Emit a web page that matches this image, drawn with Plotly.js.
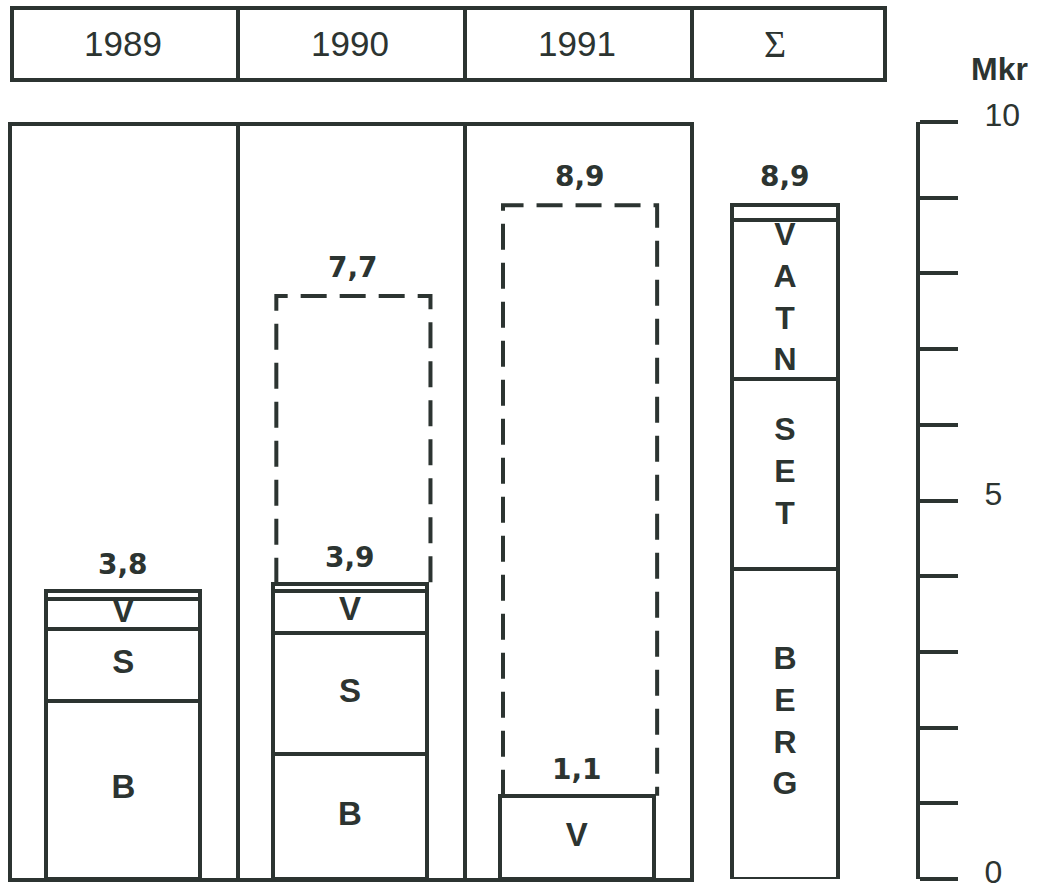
<!DOCTYPE html>
<html>
<head>
<meta charset="utf-8">
<script src="https://cdn.plot.ly/plotly-3.0.1.min.js"></script>
<style>
  html, body { margin: 0; padding: 0; background: #ffffff; }
  #chart { width: 1042px; height: 894px; }
</style>
</head>
<body>
<div id="chart"></div>
<script>
// ---- data (Mkr) ----
const years = ['1989', '1990', '1991'];
const berg  = [2.35, 1.65, null];
const setv  = [0.95, 1.6, null];
const vatn  = [0.4, 0.55, 1.1];
const annet = [0.1, 0.1, null];
const plan  = [null, 7.7, 8.9];
const segLetters = ['B', 'S', 'V'];

const sumHeader = 'Σ';
const sumWords  = ['BERG', 'SET', 'VATN'];
const sumValues = [4.1, 2.5, 2.1, 0.2];   // BERG, SET, VATN, annet

const yTicks = [0, 5, 10];
const unit = 'Mkr';

// ---- style ----
const INK = '#2c3431';
const LW = 4;
const W = 1042, H = 894;
const px = v => v / W, py = v => 1 - v / H;
const fmt = v => v.toFixed(1).replace('.', ',');
const SANS = 'Liberation Sans, Arial, Helvetica, sans-serif';
const NUM = 'DejaVu Sans, Liberation Sans, Arial, sans-serif';

const idx = years.map((_, i) => i);
const barW = 0.68, sumW = 0.55;

const traces = [];
const series = [berg, setv, vatn, annet];
const totals = years.map((_, i) => series.reduce((a, s) => a + (s[i] || 0), 0));

// dashed planned boxes (from the top of the realised bar up to the plan value)
plan.forEach((p, i) => {
  if (p == null) return;
  const c = i + 0.015, h = barW / 2;
  const b = totals[i];
  traces.push({
    type: 'scatter', mode: 'lines',
    x: [c - h, c - h, c + h, c + h], y: [b, p, p, b],
    line: { color: INK, width: LW, dash: '26px,13px' },
    hoverinfo: 'skip', showlegend: false, xaxis: 'x', yaxis: 'y'
  });
});

series.forEach(s => {
  traces.push({
    type: 'bar', x: idx, y: s, width: barW,
    marker: { color: '#ffffff', line: { color: INK, width: LW } },
    hoverinfo: 'skip', showlegend: false, xaxis: 'x', yaxis: 'y'
  });
});
sumValues.forEach(v => {
  traces.push({
    type: 'bar', x: [0], y: [v], width: sumW,
    marker: { color: '#ffffff', line: { color: INK, width: LW } },
    hoverinfo: 'skip', showlegend: false, xaxis: 'x2', yaxis: 'y'
  });
});

// segment letters (yearly bars)
const segs = [berg, setv, vatn];
const lx = [], ly = [], lt = [];
years.forEach((_, i) => {
  let base = 0;
  segs.forEach((s, k) => {
    if (s[i] != null) {
      lx.push(i); ly.push(base + s[i] / 2); lt.push(segLetters[k]);
      base += s[i];
    }
  });
});
traces.push({
  type: 'scatter', mode: 'text', x: lx, y: ly, text: lt,
  textposition: 'middle center',
  textfont: { family: SANS, size: 33, color: INK, weight: 'bold' },
  hoverinfo: 'skip', showlegend: false, xaxis: 'x', yaxis: 'y', cliponaxis: false
});

// Σ segment words (vertical letters)
const sy = [], st = [];
let sb = 0;
sumWords.forEach((w, k) => {
  sy.push(sb + sumValues[k] / 2);
  st.push(w.split('').join('<br>'));
  sb += sumValues[k];
});
traces.push({
  type: 'scatter', mode: 'text', x: sy.map(() => 0), y: sy, text: st,
  textposition: 'middle center',
  textfont: { family: SANS, size: 32, color: INK, weight: 'bold' },
  hoverinfo: 'skip', showlegend: false, xaxis: 'x2', yaxis: 'y', cliponaxis: false
});

// ---- annotations ----
const annotations = [];
const valFont = { family: NUM, size: 28, color: INK, weight: 'bold' };
years.forEach((yr, i) => {
  const tot = totals[i];
  annotations.push({ xref: 'x', yref: 'y', x: i, y: tot, text: fmt(tot),
    showarrow: false, yanchor: 'bottom', yshift: 8, font: valFont });
  if (plan[i] != null) {
    annotations.push({ xref: 'x', yref: 'y', x: i + 0.015, y: plan[i], text: fmt(plan[i]),
      showarrow: false, yanchor: 'bottom', yshift: 10, font: valFont });
  }
  annotations.push({ xref: 'x', yref: 'paper', x: i, y: py(44), text: yr,
    showarrow: false, yanchor: 'middle', font: { family: SANS, size: 35, color: INK } });
});
const sumTot = sumValues.reduce((a, b) => a + b, 0);
annotations.push({ xref: 'x2', yref: 'y', x: 0, y: sumTot, text: fmt(sumTot),
  showarrow: false, yanchor: 'bottom', yshift: 10, font: valFont });
annotations.push({ xref: 'paper', yref: 'paper', x: px(788), y: py(44), text: sumHeader,
  showarrow: false, yanchor: 'middle',
  font: { family: 'Liberation Serif, Times New Roman, serif', size: 38, color: INK } });
annotations.push({ xref: 'paper', yref: 'paper', x: px(999), y: py(69), text: unit,
  showarrow: false, yanchor: 'middle', xanchor: 'center',
  font: { family: SANS, size: 32, color: INK, weight: 'bold' } });

// ---- frame shapes ----
const line = { color: INK, width: LW };
const BOT = 879;
const shapes = [
  // header row
  { type: 'rect', xref: 'paper', yref: 'paper', x0: px(12), x1: px(885), y0: py(80), y1: py(8), line },
  ...[238, 465, 692].map(x => ({ type: 'line', xref: 'paper', yref: 'paper',
    x0: px(x), x1: px(x), y0: py(80), y1: py(8), line })),
  // main panels
  { type: 'rect', xref: 'paper', yref: 'paper', x0: px(10), x1: px(692), y0: py(BOT + 1), y1: py(124), line },
  ...[238, 465].map(x => ({ type: 'line', xref: 'paper', yref: 'paper',
    x0: px(x), x1: px(x), y0: py(BOT + 1), y1: py(124), line }))
];

const layout = {
  width: W, height: H,
  margin: { l: 0, r: 0, t: 0, b: 0, pad: 0 },
  paper_bgcolor: '#ffffff', plot_bgcolor: 'rgba(0,0,0,0)',
  barmode: 'stack', bargap: 0,
  showlegend: false,
  xaxis: { domain: [px(10), px(690)], range: [-0.5, years.length - 0.5], anchor: 'y',
    showgrid: false, zeroline: false, showline: false, showticklabels: false, ticks: '', fixedrange: true },
  xaxis2: { domain: [px(688), px(882)], range: [-0.5, 0.5], anchor: 'y',
    showgrid: false, zeroline: false, showline: false, showticklabels: false, ticks: '', fixedrange: true },
  yaxis: { domain: [1 - BOT / H, 1 - 122 / H], range: [0, 10], anchor: 'free', position: px(918),
    side: 'right', showgrid: false, zeroline: false,
    showline: true, linecolor: INK, linewidth: LW,
    tickmode: 'array', tickvals: yTicks, ticktext: yTicks.map(String),
    ticks: 'outside', ticklen: 38, tickwidth: LW, tickcolor: INK,
    ticklabelstandoff: 20, ticklabeloverflow: 'allow', ticklabelshift: -7,
    tickfont: { family: SANS, size: 32, color: INK },
    minor: { tickmode: 'linear', tick0: 0, dtick: 1, ticks: 'outside', ticklen: 38, tickwidth: LW, tickcolor: INK, showgrid: false },
    fixedrange: true },
  shapes, annotations
};

Plotly.newPlot('chart', traces, layout, { staticPlot: true, displayModeBar: false });
</script>
</body>
</html>
